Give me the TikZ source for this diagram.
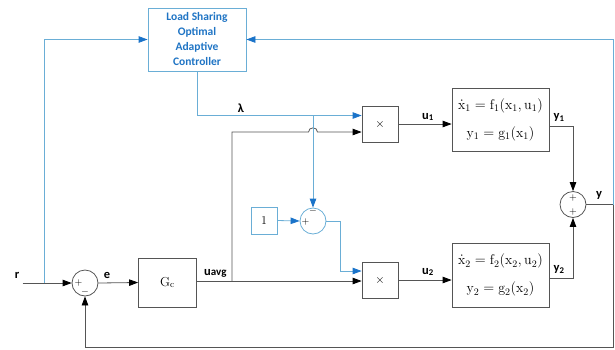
\documentclass[tikz,border=0pt]{standalone}
\usepackage{fontspec}
\setsansfont{Carlito}
\usetikzlibrary{arrows.meta}
\definecolor{lineblue}{HTML}{6AAED6}
\definecolor{tipblue}{HTML}{1A73C9}
\definecolor{txtblue}{HTML}{1F74C4}
\definecolor{gline}{HTML}{555555}
\begin{document}
\begin{tikzpicture}[x=1pt,y=-1pt,
  gl/.style={draw=gline, line width=0.8pt},
  bl/.style={draw=lineblue, line width=0.8pt},
  ga/.style={gl, -{Triangle[length=9pt,width=6.5pt,color=black]}},
  ba/.style={bl, -{Triangle[length=9pt,width=6.5pt,color=tipblue]}},
  gbox/.style={draw=gline, line width=0.8pt, inner sep=0pt, align=center},
  bbox/.style={draw=lineblue, line width=0.8pt, inner sep=0pt, align=center},
  sumg/.style={circle, draw=gline, line width=0.8pt, minimum size=26pt, inner sep=0pt},
  sumb/.style={circle, draw=lineblue, line width=0.8pt, minimum size=26pt, inner sep=0pt},
  lab/.style={font=\sffamily\bfseries\fontsize{12.5}{14}\selectfont, inner sep=0pt},
  sgn/.style={font=\fontsize{10}{10}\selectfont, inner sep=0pt},
  eq/.style={font=\fontsize{14}{16}\selectfont}
]
\useasboundingbox (0,0) rectangle (615,349);

% nodes
\node[bbox, minimum width=98pt, minimum height=63pt,
      font=\sffamily\bfseries\fontsize{11.5}{15}\selectfont, text=txtblue]
      (ctrl) at (197,39.5) {Load Sharing\\Optimal\\Adaptive\\Controller};
\node[gbox, minimum width=36pt, minimum height=36pt, font=\fontsize{12}{14}\selectfont] (m1) at (380,124) {$\times$};
\node[gbox, minimum width=36pt, minimum height=36pt, font=\fontsize{12}{14}\selectfont] (m2) at (380,280) {$\times$};
\node[gbox, minimum width=97pt, minimum height=63pt, eq] (p1) at (500.5,120)
      {$\dot{\mathrm{x}}_1=\mathrm{f}_1(\mathrm{x}_1,\mathrm{u}_1)$\\[12pt]$\mathrm{y}_1=\mathrm{g}_1(\mathrm{x}_1)$};
\node[gbox, minimum width=97pt, minimum height=64pt, eq] (p2) at (500.5,275.3)
      {$\dot{\mathrm{x}}_2=\mathrm{f}_2(\mathrm{x}_2,\mathrm{u}_2)$\\[12pt]$\mathrm{y}_2=\mathrm{g}_2(\mathrm{x}_2)$};
\node[sumg] (s1) at (85,283) {};
\node[sumb] (s2) at (313,221) {};
\node[sumg] (s3) at (573,204.5) {};
\node[bbox, minimum width=26pt, minimum height=27pt, font=\fontsize{12}{14}\selectfont] (one) at (264,220.5) {1};
\node[gbox, minimum width=58pt, minimum height=49pt, font=\fontsize{13}{15}\selectfont] (gc) at (167.5,282.5) {$\mathrm{G}_\mathrm{c}$};

% signs
\node[sgn] at (78.5,282.5) {$+$};
\node[sgn] at (85,291.5) {$-$};
\node[sgn] at (305.5,221.5) {$+$};
\node[sgn] at (313,210.5) {$-$};
\node[sgn] at (573,198) {$+$};
\node[sgn] at (573,211.5) {$+$};

% coordinates
\coordinate (rin) at (22.7,283);
\coordinate (tap) at (44,283);
\coordinate (lamcorner) at (197,115.5);
\coordinate (lamtap) at (313,115.5);
\coordinate (out) at (613,204.5);

% signal flow (gray)
\draw[ga] (rin) -- (s1.west);
\draw[ga] (s1.east) -- (gc.west);
\draw[ga] (gc.east |- 0,281) -- (m2.west |- 0,281);
\draw[ga] (232,281) -- (232,132) -- (308.5,132)
   .. controls (308.5,126.5) and (317.5,126.5) .. (317.5,132) -- (m1.west |- 0,132);
\draw[ga] (m1.east) -- (p1.west |- m1.east);
\draw[ga] (m2.east) -- (p2.west |- m2.east);
\draw[ga] (p1.east |- 0,126.7) -| (s3.north);
\draw[ga] (p2.east |- 0,278.3) -| (s3.south);
\draw[gl] (s3.east) -- (out);
\draw[ga] (out) -- (613,347) -| (s1.south);

% blue paths
\draw[ba] (tap) -- (44,39.5) -- (ctrl.west);
\draw[ba] (out) -- (613,39.5) -- (ctrl.east);
\draw[ba] (ctrl.south) -- (lamcorner) -- (m1.west |- lamcorner);
\draw[ba] (lamtap) -- (s2.north);
\draw[ba] (one.east) -- (s2.west);
\draw[ba] (s2.east) -- (340,221) -- (340,271) -- (m2.west |- 0,271);

% labels
\node[lab, anchor=south] at (17,279) {r};
\node[lab, anchor=south] at (107,279) {e};
\node[lab, anchor=south west] at (204,278) {u{\fontsize{11}{12}\selectfont avg}};
\node[lab, anchor=south] at (241,113) {λ};
\node[lab, anchor=south] at (428,121) {u\textsubscript{1}};
\node[lab, anchor=south] at (428,276) {u\textsubscript{2}};
\node[lab, anchor=south] at (559,122) {y\textsubscript{1}};
\node[lab, anchor=south] at (559,274) {y\textsubscript{2}};
\node[lab, anchor=south] at (599,200) {y};
\end{tikzpicture}
\end{document}
